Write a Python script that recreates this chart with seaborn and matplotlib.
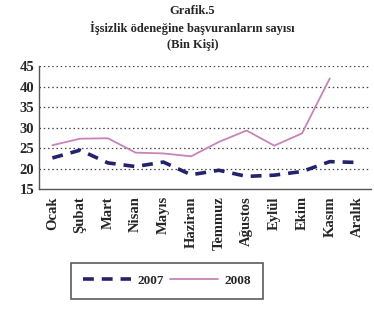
import numpy as np
import matplotlib
matplotlib.use("Agg")
import matplotlib.pyplot as plt
import seaborn as sns
import pandas as pd

aylar = ['Ocak', 'Şubat', 'Mart', 'Nisan', 'Mayıs', 'Haziran', 'Temmuz',
         'Ağustos', 'Eylül', 'Ekim', 'Kasım', 'Aralık']
y2007 = [22.6, 24.5, 21.4, 20.5, 21.6, 18.5, 19.6, 18.1, 18.4, 19.3, 21.7, 21.5]
y2008 = [25.7, 27.3, 27.4, 23.9, 23.7, 23.0, 26.5, 29.3, 25.6, 28.6, 42.0, np.nan]
yticks = [15, 20, 25, 30, 35, 40, 45]

df = pd.DataFrame({
    'Ay': aylar * 2,
    'Deger': y2007 + y2008,
    'Yil': ['2007'] * 12 + ['2008'] * 12,
})

sns.set_style('white')
plt.rcParams['font.family'] = ['Liberation Serif', 'DejaVu Serif']
plt.rcParams['font.weight'] = 'bold'

fig = plt.figure(figsize=(3.74, 3.09), dpi=100)
ax = fig.add_axes([0.103, 0.388, 0.89, 0.398])

renkler = {'2007': '#23226b', '2008': '#c784b8'}
sns.lineplot(data=df, x='Ay', y='Deger', hue='Yil', style='Yil',
             palette=renkler, dashes={'2007': (3, 2.2), '2008': ''},
             sort=False, ax=ax, legend=False)
ax.lines[0].set_linewidth(2.6)
ax.lines[1].set_linewidth(1.3)

ax.set_xlim(-0.5, 11.5)
ax.set_ylim(15, 45)
ax.set_yticks(yticks)
ax.set_yticklabels([str(t) for t in yticks], fontsize=10.5, fontweight='bold')
ax.set_xticks(range(12))
ax.set_xticklabels(aylar, rotation=90, fontsize=10.5, fontweight='bold')
ax.set_xticks(np.arange(-0.5, 12, 1), minor=True)
ax.tick_params(axis='x', which='major', length=0, pad=5)
ax.tick_params(axis='x', which='minor', length=3, direction='inout', width=0.8)
ax.tick_params(axis='y', length=4, direction='inout', width=0.8, pad=1)
ax.set_xlabel('')
ax.set_ylabel('')

for t in yticks[1:]:
    ax.axhline(t, color='#444444', linestyle=(0, (1.2, 2.2)), linewidth=0.9, zorder=0)

for s in ['top', 'right']:
    ax.spines[s].set_visible(False)
for s in ['left', 'bottom']:
    ax.spines[s].set_color('#555555')
    ax.spines[s].set_linewidth(1.0)

fig.text(0.515, 0.965, 'Grafik.5', ha='center', va='center', fontsize=9, fontweight='bold')
fig.text(0.515, 0.91, 'İşsizlik ödeneğine başvuranların sayısı', ha='center', va='center',
         fontsize=9, fontweight='bold')
fig.text(0.515, 0.855, '(Bin Kişi)', ha='center', va='center', fontsize=9, fontweight='bold')

h1, = ax.plot([], [], color=renkler['2007'], linewidth=2.6, dashes=(3, 2.2))
h2, = ax.plot([], [], color=renkler['2008'], linewidth=1.3)
leg = fig.legend([h1, h2], ['2007', '2008'], ncol=2, loc='center',
                 bbox_to_anchor=(0.447, 0.091), frameon=True, fancybox=False,
                 fontsize=9.5, handlelength=3.6, columnspacing=0.5, handletextpad=0.5,
                 borderpad=0.9)
leg.get_frame().set_edgecolor('#333333')
leg.get_frame().set_linewidth(1.2)

fig.savefig('out.png', dpi=100)
